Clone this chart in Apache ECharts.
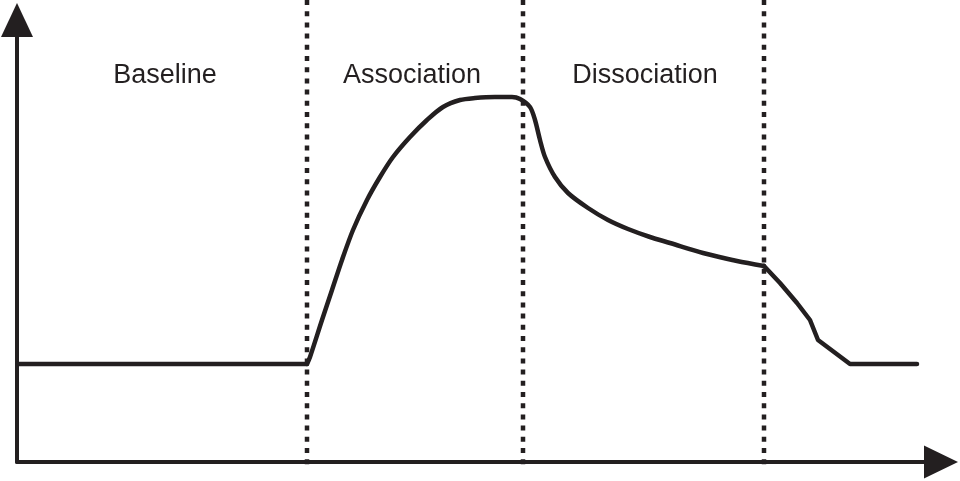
<!DOCTYPE html>
<html>
<head>
<meta charset="utf-8">
<script src="https://cdn.jsdelivr.net/npm/echarts@6/dist/echarts.min.js"></script>
<style>
  html, body { margin: 0; padding: 0; background: #fff; }
  #chart { width: 960px; height: 481px; }
</style>
</head>
<body>
<div id="chart"></div>
<script>
// phase labels
const phaseNames = ["Baseline", "Association", "Dissociation"];
// phase boundaries (time units)
const dividers = [290, 506, 747];
// response curve, [time, response]
const baseline = [[1, 98], [290, 98]];
const assocDissoc = [
  [290, 98], [293, 105], [305, 142], [315, 172], [325, 202], [336, 232],
  [350, 262], [363, 285], [376, 305], [393, 325], [410, 342], [426, 355],
  [443, 362], [458, 364], [478, 365], [495, 365], [503, 363], [513, 355],
  [518, 342], [523, 322], [528, 305], [538, 285], [551, 269], [571, 254],
  [591, 242], [611, 233], [633, 225], [653, 219], [686, 209], [720, 201],
  [747, 196],
];
const tail = [[747, 196], [763, 179], [780, 159], [793, 142], [801, 122], [833, 98], [900, 98]];

const ink = "#231f20";
const chart = echarts.init(document.getElementById("chart"));

const curveStyle = { color: ink, width: 4.5, cap: "round", join: "round" };

const series = [
  { type: "line", data: baseline, symbol: "none", lineStyle: curveStyle },
  { type: "line", data: assocDissoc, symbol: "none", smooth: 0.3, lineStyle: curveStyle },
  { type: "line", data: tail, symbol: "none", lineStyle: curveStyle },
];

// 虚线分隔
dividers.forEach((x) => {
  series.push({
    type: "line",
    data: [[x, 462], [x, -7]],
    symbol: "none",
    clip: false,
    silent: true,
    lineStyle: { color: ink, width: 4.5, type: [5, 6.2], cap: "butt" },
  });
});

const labelX = [165, 412, 645];

chart.setOption({
  animation: false,
  backgroundColor: "#fff",
  grid: { left: 17, right: 19, top: 20, bottom: 19 },
  xAxis: {
    type: "value",
    min: 0,
    max: 924,
    axisLine: {
      show: true,
      onZero: false,
      symbol: ["none", "triangle"],
      symbolSize: [33, 34],
      lineStyle: { color: ink, width: 4 },
    },
    axisTick: { show: false },
    axisLabel: { show: false },
    splitLine: { show: false },
  },
  yAxis: {
    type: "value",
    min: 0,
    max: 442,
    axisLine: {
      show: true,
      symbol: ["none", "triangle"],
      symbolSize: [32, 34],
      lineStyle: { color: ink, width: 4 },
    },
    axisTick: { show: false },
    axisLabel: { show: false },
    splitLine: { show: false },
  },
  graphic: phaseNames.map((name, i) => ({
    type: "text",
    style: {
      text: name,
      x: labelX[i],
      y: 76,
      align: "center",
      verticalAlign: "middle",
      fill: ink,
      font: "27px 'Liberation Sans', Arial, sans-serif",
    },
  })),
  series: series,
});
</script>
</body>
</html>
